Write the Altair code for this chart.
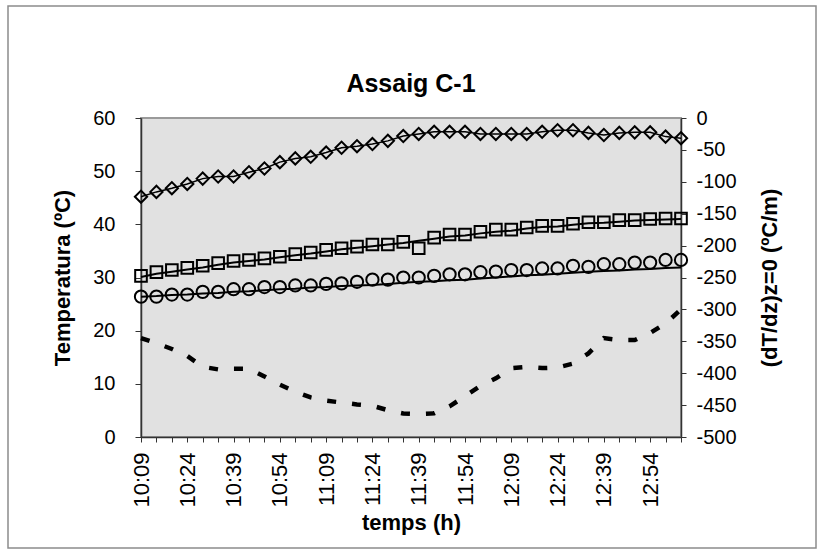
import json
import altair as alt
import pandas as pd

# ---------------- data ----------------
times = ["10:09", "10:14", "10:19", "10:24", "10:29", "10:34", "10:39", "10:44",
         "10:49", "10:54", "10:59", "11:04", "11:09", "11:14", "11:19", "11:24",
         "11:29", "11:34", "11:39", "11:44", "11:49", "11:54", "11:59", "12:04",
         "12:09", "12:14", "12:19", "12:24", "12:29", "12:34", "12:39", "12:44",
         "12:49", "12:54", "12:59", "13:04"]

shown_labels = ["10:09", "10:24", "10:39", "10:54", "11:09", "11:24",
                "11:39", "11:54", "12:09", "12:24", "12:39", "12:54"]

diamond = [45.2, 46.1, 46.8, 47.6, 48.6, 49.0, 49.0, 49.8, 50.5, 51.7, 52.4, 52.7,
           53.5, 54.4, 54.7, 55.1, 55.7, 56.6, 57.0, 57.4, 57.4, 57.4, 57.0, 57.0,
           57.0, 57.0, 57.4, 57.7, 57.7, 57.2, 56.8, 57.2, 57.3, 57.3, 56.5, 56.2]

square = [30.3, 31.0, 31.4, 31.8, 32.2, 32.7, 33.1, 33.3, 33.6, 33.9, 34.4, 34.7,
          35.2, 35.5, 35.8, 36.2, 36.2, 36.7, 35.5, 37.5, 38.1, 38.1, 38.6, 39.0,
          39.0, 39.4, 39.7, 39.7, 40.1, 40.4, 40.4, 40.8, 40.8, 41.0, 41.1, 41.1]

square_line = [30.1, 30.7, 31.1, 31.5, 31.9, 32.4, 32.8, 33.1, 33.4, 33.8, 34.2, 34.5,
               34.9, 35.3, 35.6, 35.9, 36.2, 36.5, 36.9, 37.3, 37.7, 37.9, 38.3, 38.6,
               38.8, 39.2, 39.5, 39.6, 39.9, 40.2, 40.3, 40.5, 40.7, 40.8, 40.9, 41.0]

circle = [26.4, 26.4, 26.8, 26.8, 27.3, 27.3, 27.8, 27.8, 28.2, 28.2, 28.5, 28.5,
          28.8, 28.9, 29.2, 29.6, 29.6, 30.0, 30.0, 30.3, 30.6, 30.6, 31.0, 31.1,
          31.4, 31.4, 31.7, 31.7, 32.2, 32.0, 32.5, 32.5, 32.8, 32.8, 33.3, 33.3]

circle_line = [26.4, 26.5, 26.7, 26.8, 27.0, 27.1, 27.3, 27.4, 27.6, 27.8, 27.9, 28.1,
               28.2, 28.4, 28.5, 28.6, 28.8, 29.0, 29.2, 29.3, 29.5, 29.6, 29.8, 30.0,
               30.2, 30.4, 30.5, 30.7, 30.9, 31.1, 31.2, 31.3, 31.5, 31.6, 31.8, 31.9]

gradient = [-345, -353, -362, -373, -390, -394, -393, -393, -405, -418, -429, -438,
            -443, -446, -449, -451, -458, -463, -464, -463, -452, -436, -420, -408,
            -392, -390, -392, -391, -385, -369, -345, -348, -348, -337, -322, -300]

left_ticks = [0, 10, 20, 30, 40, 50, 60]
right_ticks = [-500, -450, -400, -350, -300, -250, -200, -150, -100, -50, 0]

df = pd.DataFrame({
    "t": times,
    "diamond": diamond,
    "square": square,
    "square_line": square_line,
    "circle": circle,
    "circle_line": circle_line,
    "gradient": gradient,
})

FONT = "Liberation Sans"
W, H = 540, 319

label_expr = "indexof(%s, datum.value) >= 0 ? datum.value : ''" % json.dumps(shown_labels)

x_enc = alt.X(
    "t:O", sort=None,
    scale=alt.Scale(type="point", padding=0),
    axis=alt.Axis(
        title="temps (h)", labelAngle=270, labelExpr=label_expr, labelOverlap=False,
        labelFontSize=22, labelPadding=10, tickSize=5, tickColor="#333333",
        domainColor="#333333", domainWidth=1.5, titleFontSize=22,
        titleFontWeight="bold", titlePadding=5, labelColor="black",
        titleColor="black",
    ),
)

left_axis = alt.Axis(
    title="Temperatura (ºC)", values=left_ticks, orient="left", grid=False,
    labelFontSize=20, labelPadding=20, tickSize=6, tickColor="#333333",
    domainColor="#333333", domainWidth=1.5, titleFontSize=22,
    titleFontWeight="bold", titlePadding=18, labelColor="black", titleColor="black",
)
left_scale = alt.Scale(domain=[0, 60], nice=False)


def ly(field):
    return alt.Y(field + ":Q", scale=left_scale, axis=left_axis)


base = alt.Chart(df).encode(x=x_enc)

diamond_line = base.mark_line(color="black", strokeWidth=1.5).encode(y=ly("diamond"))
diamond_pts = base.mark_point(shape="diamond", filled=False, size=150, strokeWidth=2,
                              color="black", opacity=1).encode(y=ly("diamond"))
square_ln = base.mark_line(color="black", strokeWidth=2).encode(y=ly("square_line"))
square_pts = base.mark_point(shape="square", filled=False, size=135, strokeWidth=2,
                             color="black", opacity=1).encode(y=ly("square"))
circle_ln = base.mark_line(color="black", strokeWidth=2).encode(y=ly("circle_line"))
circle_pts = base.mark_point(shape="circle", filled=False, size=150, strokeWidth=2,
                             color="black", opacity=1).encode(y=ly("circle"))

left = alt.layer(diamond_line, diamond_pts, square_ln, square_pts, circle_ln, circle_pts)

right = base.mark_line(color="black", strokeWidth=4.5, strokeDash=[9, 16],
                       strokeCap="butt").encode(
    y=alt.Y("gradient:Q", scale=alt.Scale(domain=[-500, 0], nice=False),
            axis=alt.Axis(title="(dT/dz)z=0 (ºC/m)", values=right_ticks, orient="right",
                          labelExpr="'' + datum.value",
                          grid=False, labelFontSize=20, labelPadding=10, tickSize=5,
                          tickColor="#333333", domainColor="#333333", domainWidth=1.5,
                          titleFontSize=22, titleFontWeight="bold", titleAngle=270,
                          titlePadding=45, labelColor="black", titleColor="black"))
)

frame = alt.Chart(alt.Data(values=[{}])).mark_rect(
    fill=None, stroke="#8c8c8c", strokeWidth=1.5
).encode(
    x=alt.value(-133), x2=alt.value(W + 135),
    y=alt.value(-112), y2=alt.value(H + 111),
)

chart = alt.layer(frame, alt.layer(left, right).resolve_scale(y="independent")).properties(
    width=W, height=H,
    autosize=alt.AutoSizeParams(type="none"),
    padding={"left": 141, "top": 118, "right": 143, "bottom": 118},
    title=alt.TitleParams("Assaig C-1", fontSize=25, fontWeight="bold", font=FONT,
                          anchor="middle", baseline="alphabetic", offset=-112, color="black"),
).configure(font=FONT, background="white").configure_view(
    fill="#e1e1e1", stroke="#9a9a9a", strokeWidth=2
)

chart.save("out.html", embed_options={"renderer": "svg", "actions": False})
